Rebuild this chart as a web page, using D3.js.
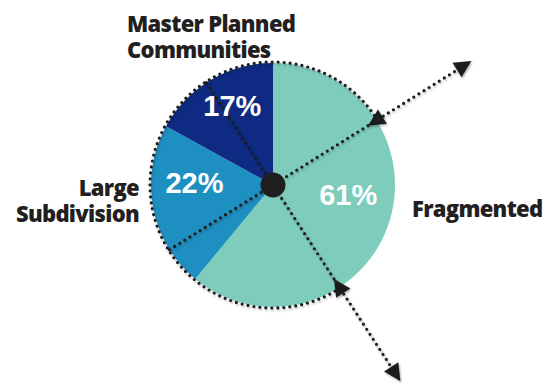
<!DOCTYPE html>
<html>
<head>
<meta charset="utf-8">
<script src="https://cdn.jsdelivr.net/npm/d3@7"></script>
<style>
  body { margin: 0; background: #fff; }
  .cat { font-family: "Open Sans", sans-serif; font-weight: 800; fill: #231f20; }
  .pct { font-family: "Liberation Sans", Arial, sans-serif; font-weight: 700; fill: #fff; }
</style>
</head>
<body>
<script>
// segment data (clockwise from 12 o'clock)
var categories = ["Fragmented", "Large Subdivision", "Master Planned Communities"];
var shares = [61, 22, 17];
var colors = ["#7ecdbc", "#1e8fc1", "#0e2a82"];

// category captions, broken the way they are on the chart
var captionLines = [["Fragmented"], ["Large", "Subdivision"], ["Master Planned", "Communities"]];

// dotted "pull" lines, in degrees clockwise from north
var pullAngles = [58, 147];

var width = 544, height = 387,
    cx = 273, cy = 185,
    radius = 122;

var svg = d3.select("body").append("svg")
    .attr("width", width)
    .attr("height", height);

var defs = svg.append("defs");
defs.append("filter")
    .attr("id", "soft")
    .attr("x", "-20%").attr("y", "-20%").attr("width", "140%").attr("height", "140%")
  .append("feDropShadow")
    .attr("dx", 1).attr("dy", 1.5)
    .attr("stdDeviation", 1.2)
    .attr("flood-color", "#000")
    .attr("flood-opacity", 0.3);

var g = svg.append("g")
    .attr("transform", "translate(" + cx + "," + cy + ")");

var pie = d3.pie().sort(null).value(function(d) { return d; });
var arcs = pie(shares);

var arc = d3.arc().innerRadius(0).outerRadius(radius);
var labelArc = d3.arc().innerRadius(80).outerRadius(80);

g.selectAll("path.slice")
    .data(arcs)
    .enter().append("path")
    .attr("class", "slice")
    .attr("d", arc)
    .attr("fill", function(d, i) { return colors[i]; });

function pt(deg, r) {
    var a = deg * Math.PI / 180;
    return [r * Math.sin(a), -r * Math.cos(a)];
}

function triangle(tipDeg, tipR, pointsOut) {
    // arrowhead along the radial direction
    var len = 17, half = 8.5;
    var a = tipDeg * Math.PI / 180;
    var u = [Math.sin(a), -Math.cos(a)];
    if (!pointsOut) u = [-u[0], -u[1]];
    var tip = pt(tipDeg, tipR);
    var base = [tip[0] - u[0] * len, tip[1] - u[1] * len];
    var n = [-u[1], u[0]];
    return "M" + tip + "L" + [base[0] + n[0] * half, base[1] + n[1] * half] +
        "L" + [base[0] - n[0] * half, base[1] - n[1] * half] + "Z";
}

var deco = g.append("g").attr("filter", "url(#soft)");

// dotted rim, from the lower pull line round to the upper one
var rim = d3.path();
rim.arc(0, 0, radius + 1,
    (pullAngles[1] - 90) * Math.PI / 180,
    (pullAngles[0] + 360 - 90) * Math.PI / 180);

deco.append("path")
    .attr("d", rim.toString())
    .attr("fill", "none")
    .attr("stroke", "#1f1f1f")
    .attr("stroke-width", 3.2)
    .attr("stroke-linecap", "round")
    .attr("stroke-dasharray", "0 6");

pullAngles.forEach(function(deg) {
    var start = pt(deg + 180, radius);
    var end = pt(deg, 220);
    deco.append("line")
        .attr("x1", start[0]).attr("y1", start[1])
        .attr("x2", end[0]).attr("y2", end[1])
        .attr("stroke", "#1f1f1f")
        .attr("stroke-width", 3.2)
        .attr("stroke-linecap", "round")
        .attr("stroke-dasharray", "0 6");

    deco.append("path")
        .attr("d", triangle(deg, 234, true))
        .attr("fill", "#1f1f1f");
    deco.append("path")
        .attr("d", triangle(deg, 112, false))
        .attr("fill", "#1f1f1f");
});

g.append("circle")
    .attr("r", 12.5)
    .attr("fill", "#1f1f1f");

// percentage labels
var labelNudge = [-7, -7, 0];
g.selectAll("text.pct")
    .data(arcs)
    .enter().append("text")
    .attr("class", "pct")
    .attr("text-anchor", "middle")
    .attr("font-size", 29)
    .attr("x", function(d) { return labelArc.centroid(d)[0]; })
    .attr("y", function(d, i) { return labelArc.centroid(d)[1] + labelNudge[i]; })
    .text(function(d) { return d.value + "%"; });

// category captions
var captionPos = [
    {x: 412, y: 217, anchor: "start"},
    {x: 139, y: 196, anchor: "end"},
    {x: 127, y: 32, anchor: "start"}
];

categories.forEach(function(c, i) {
    var p = captionPos[i];
    var t = svg.append("text")
        .attr("class", "cat")
        .attr("font-size", 22)
        .attr("letter-spacing", -0.7)
        .attr("text-anchor", p.anchor);
    captionLines[i].forEach(function(line, j) {
        t.append("tspan")
            .attr("x", p.x)
            .attr("y", p.y + j * 25.5)
            .text(line);
    });
});
</script>
</body>
</html>
